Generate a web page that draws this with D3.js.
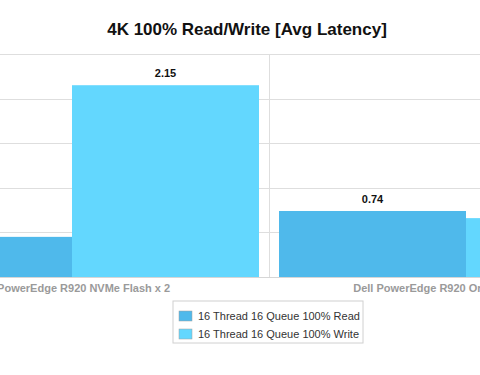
<!DOCTYPE html>
<html>
<head>
  <meta charset="UTF-8">
  <title>4K 100% Read/Write [Avg Latency]</title>
  <style>
    body { margin: 0; background: #fff; }
    svg { display: block; font-family: "Liberation Sans", Arial, sans-serif; }
    .title { font-size: 17px; font-weight: bold; fill: #111; }
    .grid line { stroke: #dedede; stroke-width: 1; }
    .cat { font-size: 11px; font-weight: bold; fill: #9a9a9a; }
    .val { font-size: 11px; font-weight: bold; fill: #111; }
    .legend text { font-size: 11px; fill: #333; }
  </style>
</head>
<body>
<svg></svg>
<script src="https://d3js.org/d3.v7.min.js"></script>
<script>

let width = 480, height = 375;

// data
var categories = ["Dell PowerEdge R920 NVMe Flash x 2", "Dell PowerEdge R920 Oracle Flash SSD x 4"];
var seriesNames = ["16 Thread 16 Queue 100% Read", "16 Thread 16 Queue 100% Write"];
var readValues = [0.45, 0.74];
var writeValues = [2.15, 0.66];
var yTicks = [0.5, 1.0, 1.5, 2.0, 2.5];
var colors = ["#4fb9eb", "#63d7fe"];

let svg = d3.select("svg")
    .attr("width", width)
    .attr("height", height);

// the plot is wider than the window, only the middle shows
const x0 = d3.scaleBand()
    .domain(categories)
    .range([-125, 663]);

const x1 = d3.scaleBand()
    .domain(seriesNames)
    .range([10, x0.bandwidth() - 10]);

const y = d3.scaleLinear()
    .domain([0, 2.5])
    .range([277, 54]);

svg.append("text")
    .attr("class", "title")
    .attr("x", 247)
    .attr("y", 35)
    .attr("text-anchor", "middle")
    .text("4K 100% Read/Write [Avg Latency]");

// horizontal grid
svg.append("g")
    .attr("class", "grid")
    .selectAll("line")
    .data(yTicks)
    .enter()
    .append("line")
    .attr("x1", 0)
    .attr("x2", width)
    .attr("y1", d => Math.round(y(d)) + 0.5)
    .attr("y2", d => Math.round(y(d)) + 0.5);

// category separators
svg.append("g")
    .attr("class", "grid")
    .selectAll("line")
    .data(categories.slice(1))
    .enter()
    .append("line")
    .attr("x1", d => Math.round(x0(d)) + 0.5)
    .attr("x2", d => Math.round(x0(d)) + 0.5)
    .attr("y1", y(2.5))
    .attr("y2", y(0));

let rows = categories.map((c, i) => [
  { cat: c, key: seriesNames[0], value: readValues[i], color: colors[0] },
  { cat: c, key: seriesNames[1], value: writeValues[i], color: colors[1] }
]);

let groups = svg.append("g")
    .selectAll("g")
    .data(rows)
    .enter()
    .append("g")
    .attr("transform", d => "translate(" + x0(d[0].cat) + ",0)");

groups.selectAll("rect")
    .data(d => d)
    .enter()
    .append("rect")
    .attr("x", d => x1(d.key))
    .attr("y", d => y(d.value))
    .attr("width", x1.bandwidth())
    .attr("height", d => y(0) - y(d.value))
    .attr("fill", d => d.color);

groups.selectAll("text")
    .data(d => d)
    .enter()
    .append("text")
    .attr("class", "val")
    .attr("x", d => x1(d.key) + x1.bandwidth() / 2)
    .attr("y", d => y(d.value) - 8)
    .attr("text-anchor", "middle")
    .text(d => d.value.toFixed(2));

// baseline
svg.append("line")
    .attr("x1", 0)
    .attr("x2", width)
    .attr("y1", y(0) + 0.5)
    .attr("y2", y(0) + 0.5)
    .attr("stroke", "#d6d6d6");

// category labels
svg.append("g")
    .selectAll("text")
    .data(categories)
    .enter()
    .append("text")
    .attr("class", "cat")
    .attr("x", d => x0(d) + x0.bandwidth() / 2)
    .attr("y", 292)
    .attr("text-anchor", "middle")
    .text(d => d);

// legend
let legend = svg.append("g")
    .attr("class", "legend")
    .attr("transform", "translate(173,301)");

legend.append("rect")
    .attr("width", 190)
    .attr("height", 42)
    .attr("fill", "#fff")
    .attr("stroke", "#d0d0d0");

let items = legend.selectAll("g")
    .data(seriesNames)
    .enter()
    .append("g")
    .attr("transform", (d, i) => "translate(6," + (10 + i * 18) + ")");

items.append("rect")
    .attr("width", 13)
    .attr("height", 10)
    .attr("fill", (d, i) => colors[i])
    .attr("stroke", "#a0a0a0")
    .attr("stroke-width", 0.5);

items.append("text")
    .attr("x", 19)
    .attr("y", 9)
    .text(d => d);

</script>
</body>
</html>
